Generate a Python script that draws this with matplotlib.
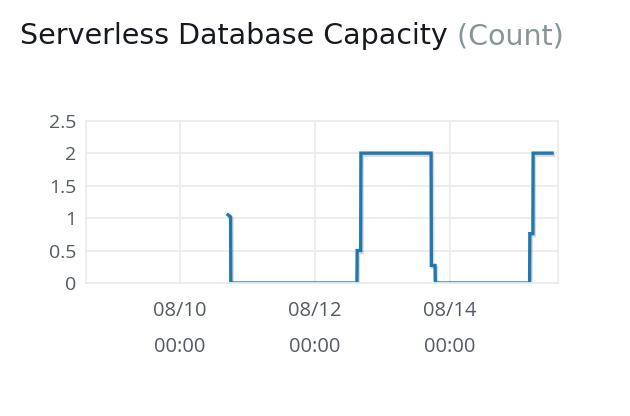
import matplotlib
matplotlib.use("Agg")
import matplotlib.pyplot as plt
import matplotlib.dates as mdates
import matplotlib.patheffects as pe
import pandas as pd

# capacity readings (timestamps where the value changes)
times = pd.to_datetime([
    "2023-08-10 17:05", "2023-08-10 18:00", "2023-08-10 18:05",
    "2023-08-12 15:00", "2023-08-12 15:05",
    "2023-08-12 16:20", "2023-08-12 16:25",
    "2023-08-13 17:25", "2023-08-13 17:30",
    "2023-08-13 18:50", "2023-08-13 18:55",
    "2023-08-15 04:30", "2023-08-15 04:35",
    "2023-08-15 05:40", "2023-08-15 05:45",
    "2023-08-15 12:30",
])
capacity = [1.05, 1.02, 0, 0, 0.5, 0.5, 2, 2, 0.27, 0.27, 0, 0, 0.76, 0.76, 2, 2]

x_start = pd.Timestamp("2023-08-08 14:30")
x_end = pd.Timestamp("2023-08-15 14:30")
x_ticks = pd.to_datetime(["2023-08-10", "2023-08-12", "2023-08-14"])
y_ticks = [0, 0.5, 1, 1.5, 2, 2.5]
y_labels = ["0", "0.5", "1", "1.5", "2", "2.5"]

title = "Serverless Database Capacity"
unit = " (Count)"

grid_c = "#eaeded"
text_c = "#545b64"

fig = plt.figure(figsize=(6.3, 4.16), dpi=100)
ax = fig.add_axes([0.1365, 0.3197, 0.7487, 0.3903])

ax.plot(times, capacity, color="#1f77b4", lw=2.4, solid_joinstyle="miter",
        path_effects=[pe.SimpleLineShadow(offset=(1, -1.5), alpha=0.15, shadow_color="black"),
                      pe.Normal()])

ax.set_xlim(x_start, x_end)
ax.set_ylim(0, 2.5)
ax.set_yticks(y_ticks)
ax.set_yticklabels(y_labels)
ax.set_xticks(x_ticks)
ax.xaxis.set_major_formatter(mdates.DateFormatter("%m/%d\n%H:%M"))

ax.grid(True, color=grid_c, lw=1.3)
ax.set_axisbelow(True)
for s in ax.spines.values():
    s.set_color(grid_c)
    s.set_linewidth(1.3)
ax.tick_params(length=0, colors=text_c, pad=7)
ax.tick_params(axis="y", labelsize=14)
ax.tick_params(axis="x", labelsize=14.5, pad=13)
for lab in ax.get_xticklabels() + ax.get_yticklabels():
    lab.set_fontfamily("Open Sans")
for lab in ax.get_xticklabels():
    lab.set_linespacing(2.05)

t1 = fig.text(20 / 630, 1 - 44 / 416, title, fontsize=20.5, color="#16191f",
              family="DejaVu Sans", va="baseline", ha="left")
fig.canvas.draw()
bb = t1.get_window_extent()
fig.text(bb.x1 / fig.bbox.width, 1 - 44 / 416, unit, fontsize=20.5, color="#879596",
         family="DejaVu Sans", va="baseline", ha="left")

fig.savefig("out.png", dpi=100)
